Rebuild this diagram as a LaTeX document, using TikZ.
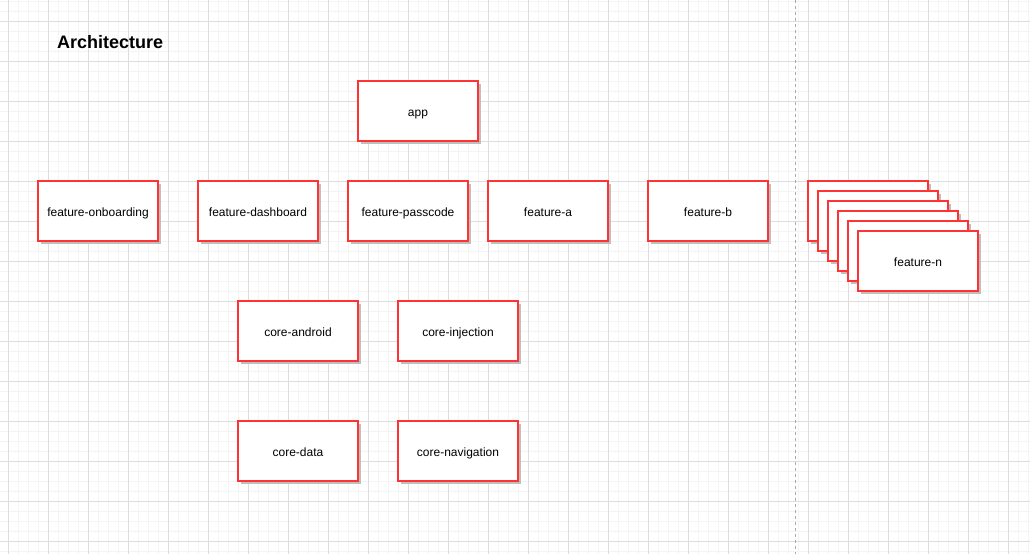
\documentclass[tikz,border=0pt]{standalone}
\usepackage{fontspec}
\setmainfont{Liberation Sans}
\usetikzlibrary{positioning, shadows}
\definecolor{boxred}{RGB}{255,51,51}
\definecolor{gridmajor}{RGB}{221,221,221}
\definecolor{gridminor}{RGB}{244,244,244}
\definecolor{divgray}{RGB}{170,170,170}

\begin{document}
\begin{tikzpicture}[x=1pt, y=-1pt,
    box/.style={draw=boxred, line width=1.1pt, fill=white, minimum width=120pt, minimum height=60pt,
      inner sep=0pt, outer sep=0pt, font=\fontsize{12}{14}\selectfont, text height=10pt, text depth=0pt,
      drop shadow={shadow xshift=3pt, shadow yshift=-3pt, fill=black!25, opacity=1}},
    title/.style={font=\fontsize{18}{21}\selectfont\bfseries, inner sep=0pt, anchor=west}]
  \useasboundingbox (0,0) rectangle (1030,554);
  \fill[white] (0,0) rectangle (1030,554);
  % grid
  \foreach \gx in {-2,8,...,1030} \draw[gridminor, line width=0.8pt] (\gx,0) -- (\gx,554);
  \foreach \gy in {1,11,...,554} \draw[gridminor, line width=0.8pt] (0,\gy) -- (1030,\gy);
  \foreach \gx in {8,48,...,1030} \draw[gridmajor, line width=0.8pt] (\gx,0) -- (\gx,554);
  \foreach \gy in {21,61,...,554} \draw[gridmajor, line width=0.8pt] (0,\gy) -- (1030,\gy);
  \coordinate (divtop) at (795.5,0);
  \coordinate (divbot) at (795.5,554);
  \draw[divgray, line width=0.9pt, dash pattern=on 3pt off 3pt] (divtop) -- (divbot);

  \node[title] (arch) at (57,42) {Architecture};
  \node[box] (app) at (418,111) {app};

  \node[box] (onboarding) at (98,211) {feature-onboarding};
  \node[box, right=40pt of onboarding] (dashboard) {feature-dashboard};
  \node[box, right=30pt of dashboard] (passcode) {feature-passcode};
  \node[box, right=20pt of passcode] (feata) {feature-a};
  \node[box, right=40pt of feata] (featb) {feature-b};
  % stack of further features
  \foreach \i in {0,...,4}
    \node[box] (featn\i) at (868+10*\i,211+10*\i) {};
  \node[box] (featn) at (918,261) {feature-n};

  \node[box] (android) at (298,331) {core-android};
  \node[box, right=40pt of android] (injection) {core-injection};
  \node[box, below=60pt of android] (data) {core-data};
  \node[box, below=60pt of injection] (navigation) {core-navigation};
\end{tikzpicture}
\end{document}
